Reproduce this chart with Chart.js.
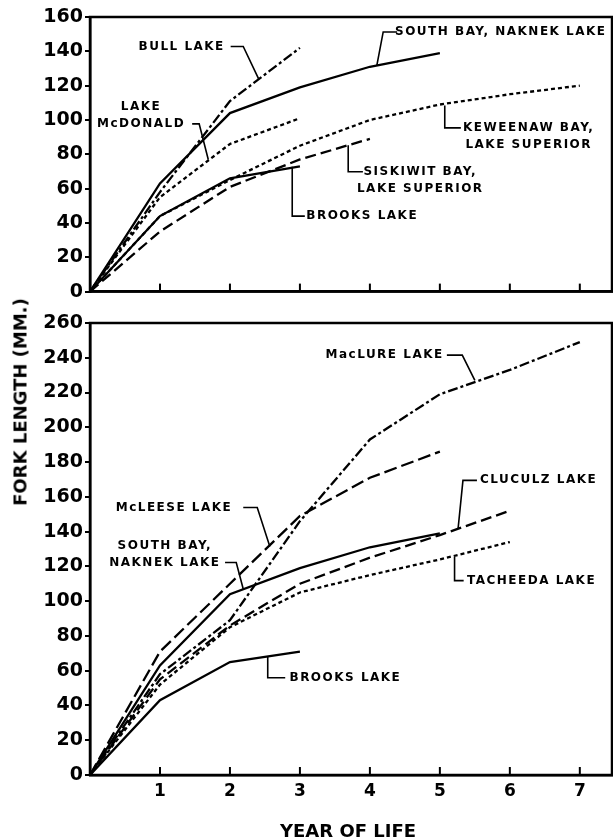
<!DOCTYPE html>
<html lang="en">
<head>
    <meta charset="UTF-8">
    <title>Fork length by year of life</title>
    <style>
        body {
            margin: 0;
            background: #fff;
            font-family: "DejaVu Sans", sans-serif;
        }
        .page {
            position: relative;
            width: 613px;
            height: 840px;
            overflow: hidden;
        }
        .panel {
            position: absolute;
            left: 0;
        }
        #topPanel { top: 0; }
        #bottomPanel { top: 305px; }
        .ytitle {
            position: absolute;
            left: 20px;
            top: 402px;
            transform: translate(-50%, -50%) rotate(-90deg);
            white-space: nowrap;
            font: bold 18px "DejaVu Sans", sans-serif;
            color: #000;
        }
        .xtitle {
            position: absolute;
            left: 348px;
            top: 830px;
            transform: translate(-50%, -50%);
            white-space: nowrap;
            font: bold 18px "DejaVu Sans", sans-serif;
            color: #000;
        }
    </style>
    <script src="https://cdn.jsdelivr.net/npm/chart.js"></script>
</head>
<body>
<div class="page">
    <div class="panel" id="topPanel"><canvas id="topChart" width="613" height="305"></canvas></div>
    <div class="panel" id="bottomPanel"><canvas id="bottomChart" width="613" height="535"></canvas></div>
    <div class="ytitle">FORK LENGTH (MM.)</div>
    <div class="xtitle">YEAR OF LIFE</div>
</div>

<script>
    // Year of life (x) and fork length in mm (y)
    const years = [0, 1, 2, 3, 4, 5, 6, 7];
    const xTicks = [1, 2, 3, 4, 5, 6, 7];

    // upper panel
    const southBayTop = [0, 63, 104, 119, 131, 139];
    const bullLake = [0, 58, 111, 142];
    const mcDonald = [0, 55, 86, 101];
    const keweenaw = [0, 44, 65, 85, 100, 109, 115, 120];
    const siskiwit = [0, 35, 61, 77, 89];
    const brooksTop = [0, 44, 66, 73];

    // lower panel
    const macLure = [0, 58, 89, 146, 193, 219, 233, 249];
    const mcLeese = [0, 71, 110, 149, 171, 186];
    const southBayBottom = [0, 63, 104, 119, 131, 139];
    const cluculz = [0, 55, 86, 110, 125, 138, 152];
    const tacheeda = [0, 52, 85, 105, 115, 124, 134];
    const brooksBottom = [0, 43, 65, 71];

    const SOLID = [];
    const DASH_DOT = [10, 3, 3, 3];
    const SHORT_DASH = [4, 3];
    const LONG_DASH = [11, 5];

    function series(label, values, dash) {
        return {
            label: label,
            data: values.map((v, i) => ({ x: years[i], y: v })),
            borderColor: '#000',
            borderWidth: 2.3,
            borderDash: dash,
            pointRadius: 0,
            fill: false,
            tension: 0
        };
    }

    // label text + leader line, all in data units
    const topLabels = [
        { lines: ['BULL LAKE'], at: [1.31, 142.8], anchor: 0, path: [[2.01, 142.8], [2.19, 142.8], [2.41, 124]] },
        { lines: ['LAKE', 'McDONALD'], at: [0.73, 97.7], anchor: 1, path: [[1.46, 97.7], [1.56, 97.7], [1.69, 77]] },
        { lines: ['SOUTH BAY, NAKNEK LAKE'], at: [5.87, 151.3], anchor: 0, path: [[4.39, 151.3], [4.19, 151.3], [4.1, 132]] },
        { lines: ['KEWEENAW BAY,', 'LAKE SUPERIOR'], at: [6.27, 95.4], anchor: 0, path: [[5.3, 95.4], [5.07, 95.4], [5.07, 108.5]] },
        { lines: ['SISKIWIT BAY,', 'LAKE SUPERIOR'], at: [4.72, 69.8], anchor: 0, path: [[3.9, 69.8], [3.69, 69.8], [3.69, 85.3]] },
        { lines: ['BROOKS LAKE'], at: [3.89, 44], anchor: 0, path: [[3.07, 44], [2.89, 44], [2.89, 72.7]] }
    ];

    const bottomLabels = [
        { lines: ['MacLURE LAKE'], at: [4.21, 241.5], anchor: 0, path: [[5.1, 241.5], [5.32, 241.5], [5.5, 227]] },
        { lines: ['McLEESE LAKE'], at: [1.2, 153.9], anchor: 0, path: [[2.19, 153.9], [2.39, 153.9], [2.57, 131.5]] },
        { lines: ['SOUTH BAY,', 'NAKNEK LAKE'], at: [1.07, 122.2], anchor: 1, path: [[1.93, 122.2], [2.09, 122.2], [2.19, 107]] },
        { lines: ['CLUCULZ LAKE'], at: [6.41, 169.5], anchor: 0, path: [[5.53, 169.5], [5.33, 169.5], [5.26, 141.6]] },
        { lines: ['TACHEEDA LAKE'], at: [6.31, 111.8], anchor: 0, path: [[5.34, 111.8], [5.21, 111.8], [5.21, 125.5]] },
        { lines: ['BROOKS LAKE'], at: [3.65, 55.9], anchor: 0, path: [[2.79, 55.9], [2.54, 55.9], [2.54, 68]] }
    ];

    // frame, inward x ticks and lake labels
    function decorPlugin(labels) {
        return {
            id: 'decor',
            afterDatasetsDraw(chart) {
                const ctx = chart.ctx;
                const a = chart.chartArea;
                const xs = chart.scales.x;
                const ys = chart.scales.y;
                ctx.save();
                ctx.strokeStyle = '#000';
                ctx.lineWidth = 2.5;
                ctx.strokeRect(a.left, a.top, a.right - a.left, a.bottom - a.top);

                ctx.lineWidth = 2;
                xTicks.forEach(v => {
                    const px = xs.getPixelForValue(v);
                    ctx.beginPath();
                    ctx.moveTo(px, a.bottom);
                    ctx.lineTo(px, a.bottom - 8);
                    ctx.stroke();
                });

                ctx.fillStyle = '#000';
                ctx.font = 'bold 12px "DejaVu Sans"';
                ctx.letterSpacing = '1.5px';
                ctx.textAlign = 'center';
                ctx.textBaseline = 'middle';
                ctx.lineWidth = 1.6;
                labels.forEach(l => {
                    const cx = xs.getPixelForValue(l.at[0]);
                    const cy = ys.getPixelForValue(l.at[1]);
                    l.lines.forEach((t, i) => {
                        ctx.fillText(t, cx, cy + (i - l.anchor) * 17);
                    });
                    ctx.beginPath();
                    l.path.forEach((p, i) => {
                        const px = xs.getPixelForValue(p[0]);
                        const py = ys.getPixelForValue(p[1]);
                        if (i === 0) ctx.moveTo(px, py); else ctx.lineTo(px, py);
                    });
                    ctx.stroke();
                });
                ctx.restore();
            }
        };
    }

    function makeChart(id, datasets, yMax, labels, showX, padTop, xHeight) {
        return new Chart(document.getElementById(id), {
            type: 'line',
            data: { datasets: datasets },
            options: {
                responsive: false,
                animation: false,
                layout: { padding: { top: padTop, right: 1, left: 0, bottom: 0 } },
                plugins: { legend: { display: false }, tooltip: { enabled: false } },
                scales: {
                    x: {
                        type: 'linear',
                        min: 0,
                        max: 7.46,
                        afterFit: s => { s.height = xHeight; },
                        afterBuildTicks: s => { s.ticks = xTicks.map(v => ({ value: v })); },
                        grid: { display: true, drawOnChartArea: false, drawTicks: false },
                        border: { display: true, color: '#000', width: 2.5 },
                        ticks: {
                            display: showX,
                            padding: 6,
                            color: '#000',
                            font: { family: 'DejaVu Sans', size: 17, weight: 'bold' }
                        }
                    },
                    y: {
                        min: 0,
                        max: yMax,
                        afterFit: s => { s.width = 90; },
                        grid: { drawOnChartArea: false, drawTicks: true, tickLength: 5, color: '#000', lineWidth: 2 },
                        border: { display: true, color: '#000', width: 2.5 },
                        ticks: {
                            stepSize: 20,
                            padding: 2,
                            color: '#000',
                            font: { family: 'DejaVu Sans', size: 19, weight: 'bold' }
                        }
                    }
                }
            },
            plugins: [decorPlugin(labels)]
        });
    }

    makeChart('topChart', [
        series('South Bay, Naknek Lake', southBayTop, SOLID),
        series('Bull Lake', bullLake, DASH_DOT),
        series('Lake McDonald', mcDonald, SHORT_DASH),
        series('Keweenaw Bay, Lake Superior', keweenaw, SHORT_DASH),
        series('Siskiwit Bay, Lake Superior', siskiwit, LONG_DASH),
        series('Brooks Lake', brooksTop, SOLID)
    ], 160, topLabels, false, 17, 13);

    makeChart('bottomChart', [
        series('MacLure Lake', macLure, DASH_DOT),
        series('McLeese Lake', mcLeese, [13, 5]),
        series('South Bay, Naknek Lake', southBayBottom, SOLID),
        series('Cluculz Lake', cluculz, LONG_DASH),
        series('Tacheeda Lake', tacheeda, SHORT_DASH),
        series('Brooks Lake', brooksBottom, SOLID)
    ], 260, bottomLabels, true, 18, 65);
</script>
</body>
</html>
